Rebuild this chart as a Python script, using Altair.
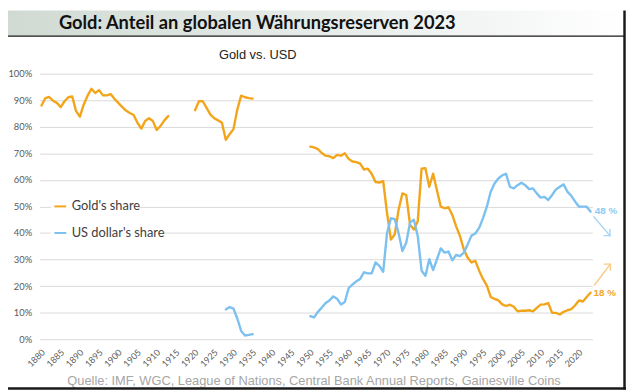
import altair as alt
import pandas as pd

# ---------------- data (percent share of global reserves) ----------------
gold_1880 = [88.0, 90.8, 91.2, 89.8, 89.0, 87.4, 89.6, 91.1, 91.4, 85.9,
             83.8, 88.4, 91.7, 94.3, 92.7, 93.8, 91.8, 91.8, 92.3, 90.5,
             89.0, 87.5, 86.1, 85.2, 84.4, 81.5, 79.3, 82.2, 83.2, 82.2,
             78.8, 80.3, 82.4, 84.0]
gold_1920 = [86.2, 89.6, 89.6, 87.1, 84.6, 83.2, 82.4, 81.5, 75.1, 77.2,
             79.1, 86.5, 91.7, 91.1, 90.8, 90.6]
gold_1950 = [72.5, 72.2, 71.6, 70.1, 69.1, 68.9, 68.2, 69.4, 69.1, 70.0,
             67.9, 66.9, 66.7, 66.1, 63.9, 64.2, 62.3, 59.2, 59.0, 59.5,
             47.5, 37.5, 39.4, 48.7, 54.9, 54.3, 43.1, 41.3, 44.4, 64.2,
             64.4, 57.4, 62.3, 56.1, 49.9, 49.3, 49.7, 46.8, 42.5, 38.8,
             33.8, 30.7, 28.9, 29.5, 25.8, 22.7, 20.2, 15.9, 15.2, 14.6,
             13.1, 12.5, 13.0, 12.2, 10.5, 10.7, 10.7, 10.9, 10.5, 11.8,
             13.0, 13.1, 13.6, 9.9, 9.9, 9.3, 10.3, 10.9, 11.3, 12.8,
             14.6, 14.2, 15.9, 17.5]
usd_1928 = [11.2, 12.1, 11.5, 7.8, 3.1, 1.4, 1.6, 1.9]
usd_1950 = [8.7, 8.2, 10.3, 11.9, 13.6, 14.6, 16.1, 15.2, 13.1, 14.0,
            19.2, 20.6, 21.8, 22.7, 25.2, 24.8, 24.8, 28.9, 27.6, 25.4,
            40.0, 45.6, 45.2, 40.0, 33.2, 36.3, 44.0, 45.0, 38.8, 25.8,
            23.9, 30.1, 26.0, 30.1, 34.2, 32.6, 33.0, 29.7, 31.7, 31.3,
            32.6, 35.7, 39.0, 39.8, 41.9, 45.6, 49.9, 55.5, 58.6, 60.5,
            61.7, 62.3, 57.4, 56.8, 58.0, 58.9, 58.0, 56.5, 56.8, 54.9,
            53.3, 53.6, 52.4, 54.3, 56.4, 57.4, 58.3, 55.5, 54.0, 51.8,
            49.9, 49.9, 49.9, 48.1]

series_names = ["Gold's share", "US dollar's share"]
series_colors = ["#F2A51A", "#7CC0F0"]
y_ticks = list(range(0, 101, 10))
x_ticks = list(range(1880, 2021, 5))
x_tick_labels = [str(y) for y in x_ticks]

title_text = "Gold: Anteil an globalen Währungsreserven 2023"
subtitle_text = "Gold vs. USD"
source_text = "Quelle: IMF, WGC, League of Nations, Central Bank Annual Reports, Gainesville Coins"

# end annotations
ann_labels = ["48 %", "18 %"]
ann_year = [2024.1, 2023.8]
ann_value = [48.1, 17.3]
ann_colors = ["#8EC9F2", "#F3A62A"]

# arrows: (x, y) -> (x2, y2) in data units
arrow_x = [2023.86, 2026.5, 2028.06, 2024.04, 2026.62, 2028.16]
arrow_y = [46.1, 39.0, 41.3, 20.4, 28.25, 26.0]
arrow_x2 = [2028.06, 2028.06, 2028.06, 2028.16, 2028.16, 2028.16]
arrow_y2 = [39.0, 39.0, 39.0, 28.25, 28.25, 28.25]
arrow_colors = ["#A8D4F5"] * 3 + ["#F8C987"] * 3

# legend rows placed on gridlines
legend_pos = [50, 40]
legend_x0 = [1882.4, 1882.4]
legend_x1 = [1905.3, 1911.8]

# ---------------- tables ----------------
rows = []
def add(series, start, vals, seg):
    for i, v in enumerate(vals):
        rows.append({"year": start + i, "share": v, "series": series, "seg": seg})

add(series_names[0], 1880, gold_1880, "g1")
add(series_names[0], 1920, gold_1920, "g2")
add(series_names[0], 1950, gold_1950, "g3")
add(series_names[1], 1928, usd_1928, "u1")
add(series_names[1], 1950, usd_1950, "u2")
df = pd.DataFrame(rows)

legend_df = pd.DataFrame({
    "series": series_names, "pos": legend_pos,
    "x0": legend_x0, "x1": legend_x1,
    "lo": [p - 1.7 for p in legend_pos], "hi": [p + 1.7 for p in legend_pos],
})
ann_df = pd.DataFrame({"label": ann_labels, "year": ann_year, "share": ann_value, "c": ann_colors})
arrow_df = pd.DataFrame({"x": arrow_x, "y": arrow_y, "x2": arrow_x2, "y2": arrow_y2, "c": arrow_colors})
tick_df = pd.DataFrame({"year": x_ticks, "lbl": x_tick_labels})
one = pd.DataFrame({"a": [0]})

x_scale = alt.Scale(domain=[1879.5, 2023.5], nice=False, zero=False)
y_scale = alt.Scale(domain=[0, 100], nice=False, zero=False)
color_scale = alt.Scale(domain=series_names, range=series_colors)

x_axis = alt.Axis(values=x_ticks, labels=False, grid=False, title=None,
                  domain=False, ticks=False)
y_axis = alt.Axis(values=y_ticks, labelExpr="datum.value + '%'", grid=True, title=None,
                  gridColor="#D9D9D9", gridWidth=1, domain=False, ticks=False,
                  labelFont="Lato", labelFontSize=9.5, labelColor="#595959",
                  labelPadding=8)

def X(field):
    return alt.X(field, scale=x_scale, axis=x_axis, title=None)

def Y(field):
    return alt.Y(field, scale=y_scale, axis=y_axis, title=None)

# ---------------- decorations ----------------
title_bar = alt.Chart(one).mark_rect(
    color=alt.LinearGradient(
        gradient="linear",
        stops=[alt.GradientStop(color="#D0DAD3", offset=0),
               alt.GradientStop(color="#E8EDEA", offset=0.55),
               alt.GradientStop(color="#FFFFFF", offset=1)],
        x1=0, x2=1, y1=0, y2=0)
).encode(x=alt.value(-32), x2=alt.value(594), y=alt.value(-64), y2=alt.value(-38))

sep_line = alt.Chart(one).mark_rule(color="#1A1A1A", strokeWidth=1.5).encode(
    x=alt.value(-32), x2=alt.value(592), y=alt.value(-38), y2=alt.value(-38))
right_border = alt.Chart(one).mark_rule(color="#1A1A1A", strokeWidth=2.5).encode(
    x=alt.value(592.5), x2=alt.value(592.5), y=alt.value(-64), y2=alt.value(320))
bottom_border = alt.Chart(one).mark_rule(color="#1A1A1A", strokeWidth=2.5).encode(
    x=alt.value(-32), x2=alt.value(594), y=alt.value(319), y2=alt.value(319))

title = alt.Chart(pd.DataFrame({"t": [title_text]})).mark_text(
    font="Lato", fontSize=18.5, fontWeight="bold",
    color="#111111", align="center", baseline="alphabetic"
).encode(x=alt.value(220.5), y=alt.value(-45.5), text="t:N")

subtitle = alt.Chart(pd.DataFrame({"t": [subtitle_text]})).mark_text(
    font="'Liberation Sans', Arial, sans-serif", fontSize=13,
    color="#222222", align="center", baseline="alphabetic"
).encode(x=alt.value(221), y=alt.value(-14.7), text="t:N")

source = alt.Chart(pd.DataFrame({"t": [source_text]})).mark_text(
    font="'Liberation Sans', Arial, sans-serif", fontSize=13,
    color="#A6A6A6", align="center", baseline="alphabetic"
).encode(x=alt.value(278), y=alt.value(315), text="t:N")

# x tick labels (slanted in the original; the renderer here draws them level)
x_labels = alt.Chart(tick_df).mark_text(
    font="Lato", fontSize=9, color="#595959", angle=315,
    align="right", baseline="middle", dx=3
).encode(x=X("year:Q"), y=alt.value(283), text="lbl:N")

# ---------------- main layers ----------------
lines = alt.Chart(df).mark_line(strokeWidth=2.4, strokeJoin="round", strokeCap="round").encode(
    x=X("year:Q"),
    y=Y("share:Q"),
    color=alt.Color("series:N", scale=color_scale, legend=None),
    detail="seg:N")

legend_bg = alt.Chart(legend_df).mark_rect(color="white").encode(
    x=X("x0:Q"), x2="x1:Q", y=Y("lo:Q"), y2="hi:Q")

legend_sym = alt.Chart(legend_df).mark_rule(strokeWidth=2).encode(
    x=alt.value(15), x2=alt.value(27),
    y=Y("pos:Q"),
    color=alt.Color("series:N", scale=color_scale, legend=None))

legend_txt = alt.Chart(legend_df).mark_text(
    font="Lato", fontSize=13, color="#404040", align="left", baseline="middle"
).encode(x=alt.value(32.5), y=Y("pos:Q"), text="series:N")

ann_txt = alt.Chart(ann_df).mark_text(
    font="'Liberation Sans', Arial, sans-serif", fontSize=10, fontWeight="bold",
    align="left", baseline="middle"
).encode(x=X("year:Q"), y=Y("share:Q"),
         text="label:N", color=alt.Color("c:N", scale=None))

arrows = alt.Chart(arrow_df).mark_rule(strokeWidth=1.4, strokeCap="round").encode(
    x=X("x:Q"), x2="x2:Q", y=Y("y:Q"), y2="y2:Q",
    color=alt.Color("c:N", scale=None))

chart = alt.layer(
    lines, title_bar, sep_line, legend_bg, legend_sym, legend_txt,
    ann_txt, arrows, x_labels, title, subtitle, source, right_border, bottom_border
).properties(
    width=560, height=269,
    autosize=alt.AutoSizeParams(type="none"),
    padding={"left": 32, "top": 64, "right": 34, "bottom": 51},
    background="white",
).configure_view(stroke=None)

chart.save("out.html", embed_options={"renderer": "svg", "actions": False})
